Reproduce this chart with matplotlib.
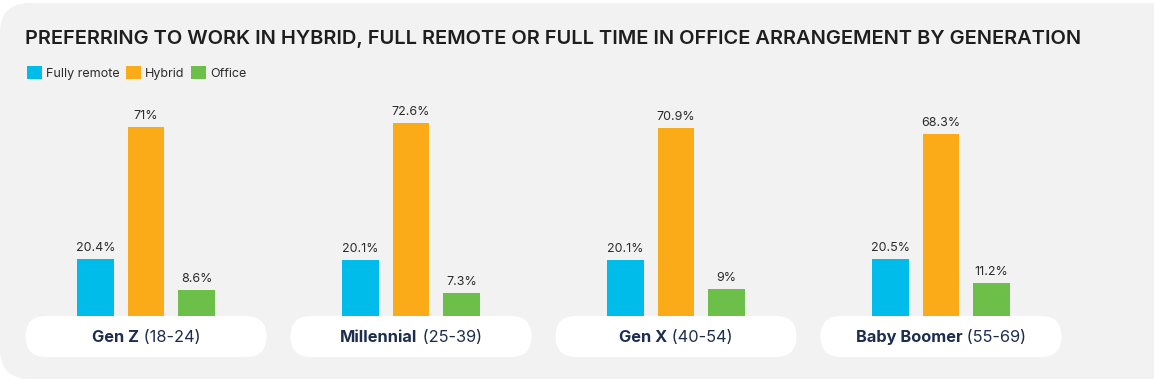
import matplotlib.pyplot as plt
from matplotlib.patches import FancyBboxPatch
import numpy as np

# data
generations = ["Gen Z", "Millennial", "Gen X", "Baby Boomer"]
age_ranges = ["(18-24)", "(25-39)", "(40-54)", "(55-69)"]
series = ["Fully remote", "Hybrid", "Office"]
fully_remote = [20.4, 20.1, 20.1, 20.5]
hybrid = [71.0, 72.6, 70.9, 68.3]
office = [8.6, 7.3, 9.0, 11.2]
value_labels = [
    ["20.4%", "20.1%", "20.1%", "20.5%"],
    ["71%", "72.6%", "70.9%", "68.3%"],
    ["8.6%", "7.3%", "9%", "11.2%"],
]
colors = ["#00BCEB", "#FBAB18", "#6CC04A"]

W, H = 1154, 382
plt.rcParams["font.family"] = ["Inter", "DejaVu Sans"]

fig = plt.figure(figsize=(W / 100, H / 100), dpi=100)
fig.patch.set_facecolor("white")

# background panel, in pixel coords
bg = fig.add_axes([0, 0, 1, 1], zorder=0)
bg.set_xlim(0, W)
bg.set_ylim(H, 0)
bg.axis("off")
bg.add_patch(FancyBboxPatch((0, 3), W + 60, 376,
                            boxstyle="round,pad=0,rounding_size=30",
                            fc="#F2F2F2", ec="none"))

# bars
ax = fig.add_axes([0, 0, 1, 1], zorder=1)
ax.patch.set_alpha(0)
ax.set_xlim(-146 / 265, (W - 146) / 265)
ax.set_ylim(-(H - 312) / 2.6, 312 / 2.6)
ax.axis("off")

x = np.arange(len(generations))
step, width = 0.1906, 0.136
bars = []
for k, (vals, c, name) in enumerate(zip([fully_remote, hybrid, office], colors, series)):
    v = np.array(vals)
    b = ax.bar(x + (k - 1) * step, v + 1.5, width, bottom=-1.5, color=c, label=name)
    bars.append(b)
    for xi, vi, lab in zip(x + (k - 1) * step, v, value_labels[k]):
        ax.annotate(lab, (xi, vi), xytext=(0, 5.8), textcoords="offset points",
                    ha="center", va="baseline", fontsize=9, color="#2b2b2b")

# overlay for pills, pixel coords
ov = fig.add_axes([0, 0, 1, 1], zorder=2)
ov.patch.set_alpha(0)
ov.set_xlim(0, W)
ov.set_ylim(H, 0)
ov.axis("off")

fig.canvas.draw()
r = fig.canvas.get_renderer()
navy = "#1C2D4F"
for i, (g, a) in enumerate(zip(generations, age_ranges)):
    cx = ax.transData.transform((x[i], 0))[0]
    ov.add_patch(FancyBboxPatch((cx - 120.5, 316), 241, 41,
                                boxstyle="round,pad=0,rounding_size=20.5",
                                fc="white", ec="none"))
    t1 = ov.text(0, 342, g, fontsize=11.8, fontweight="bold", color=navy,
                 ha="left", va="baseline")
    t2 = ov.text(0, 342, " " + a, fontsize=11.8, color=navy,
                 ha="left", va="baseline")
    w1 = t1.get_window_extent(r).width
    w2 = t2.get_window_extent(r).width
    x0 = cx - (w1 + w2) / 2
    t1.set_x(x0)
    t2.set_x(x0 + w1)

# title
ov.text(25, 44, "PREFERRING TO WORK IN HYBRID, FULL REMOTE OR FULL TIME IN OFFICE ARRANGEMENT BY GENERATION",
        fontsize=14.43, fontweight="semibold", color="#1E1E1E", ha="left", va="baseline")

# legend
ax.legend(handles=bars, loc="upper left", bbox_to_anchor=(27 / W, 1 - 66 / H),
          ncol=3, frameon=False, fontsize=9, handlelength=1.2, handleheight=1.2,
          handletextpad=0.3, columnspacing=0.55, borderpad=0, borderaxespad=0,
          labelcolor="#2b2b2b")

fig.savefig("out.png", dpi=100)
